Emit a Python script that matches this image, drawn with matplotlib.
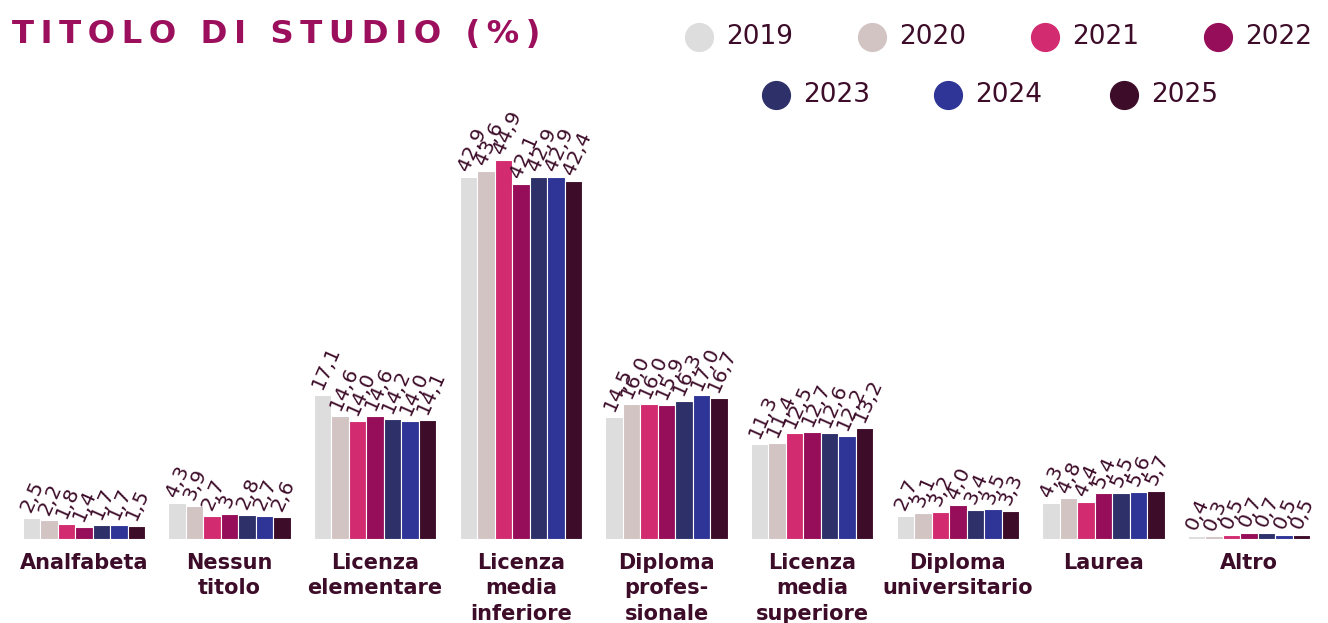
import matplotlib.pyplot as plt
from matplotlib.lines import Line2D
import numpy as np

# ── Data ───────────────────────────────────────────────────────────────────────
categories = ['Analfabeta', 'Nessun\ntitolo', 'Licenza\nelementare', 'Licenza\nmedia\ninferiore',
              'Diploma\nprofes-\nsionale', 'Licenza\nmedia\nsuperiore', 'Diploma\nuniversitario',
              'Laurea', 'Altro']
years = ['2019', '2020', '2021', '2022', '2023', '2024', '2025']

v2019 = [2.5, 4.3, 17.1, 42.9, 14.5, 11.3, 2.7, 4.3, 0.4]
v2020 = [2.2, 3.9, 14.6, 43.6, 16.0, 11.4, 3.1, 4.8, 0.3]
v2021 = [1.8, 2.7, 14.0, 44.9, 16.0, 12.5, 3.2, 4.4, 0.5]
v2022 = [1.4, 3,   14.6, 42.1, 15.9, 12.7, 4.0, 5.4, 0.7]
v2023 = [1.7, 2.8, 14.2, 42.9, 16.3, 12.6, 3.4, 5.5, 0.7]
v2024 = [1.7, 2.7, 14.0, 42.9, 17.0, 12.2, 3.5, 5.6, 0.5]
v2025 = [1.5, 2.6, 14.1, 42.4, 16.7, 13.2, 3.3, 5.7, 0.5]
series = [v2019, v2020, v2021, v2022, v2023, v2024, v2025]

colors = ['#dddddd', '#d3c4c4', '#d22b70', '#960d5a', '#2e3169', '#2e3596', '#3d0c29']
text_col = '#3d0c29'
title_col = '#9b0f5c'


def fmt(v):
    return str(v) if isinstance(v, int) else f"{v:.1f}".replace('.', ',')


# ── Plot ───────────────────────────────────────────────────────────────────────
fig = plt.figure(figsize=(13.28, 6.23), dpi=100)
ax = fig.add_axes([11 / 1328, 84 / 623, 1311 / 1328, 439 / 623])

x = np.arange(len(categories))
w = 0.12
for i, (vals, col) in enumerate(zip(series, colors)):
    pos = x + (i - 3) * w
    ax.bar(pos, vals, width=w, color=col, edgecolor='white', linewidth=0.8)
    for px, v in zip(pos, vals):
        ax.annotate(fmt(v), (px, v), xytext=(-4, 5), textcoords='offset points',
                    rotation=66, rotation_mode='anchor', ha='left', va='center',
                    fontsize=14.5, color=text_col, family='DejaVu Sans')

ax.set_xlim(-0.5, len(categories) - 0.5)
ax.set_ylim(0, 52)
ax.set_yticks([])
ax.set_xticks(x)
ax.set_xticklabels(categories, fontsize=15, fontweight='bold', color=text_col,
                   linespacing=1.35, va='top')
ax.tick_params(axis='x', length=0, pad=10)
for s in ax.spines.values():
    s.set_visible(False)

# title with letter spacing
fig.text(12 / 1328, 1 - 34 / 623, '\u2009'.join('TITOLO DI STUDIO (%)'),
         fontsize=23.3, fontweight='bold', color=title_col, va='center', ha='left')

# legend
leg_pos = [(699, 37), (872, 37), (1045, 37), (1218, 37), (776, 95), (948, 95), (1124, 95)]
for (lx, ly), yr, col in zip(leg_pos, years, colors):
    fx, fy = lx / 1328, 1 - ly / 623
    fig.add_artist(Line2D([fx], [fy], marker='o', markersize=20, color=col,
                          linestyle='none', transform=fig.transFigure))
    fig.text(fx + 27 / 1328, fy, yr, fontsize=19, color=text_col, va='center', ha='left')

plt.savefig('out.png', dpi=100)
